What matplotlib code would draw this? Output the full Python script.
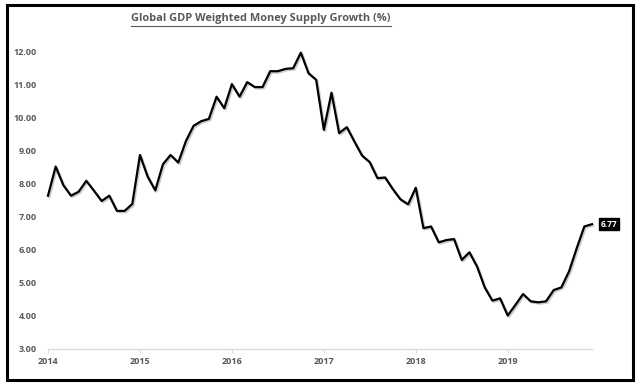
import matplotlib
matplotlib.use("Agg")
import matplotlib.pyplot as plt
import matplotlib.patches as mpatches
import matplotlib.patheffects as pe
import numpy as np

# monthly values, Jan 2014 .. Dec 2019
y2014 = [7.63, 8.51, 7.95, 7.63, 7.75, 8.08, 7.78, 7.47, 7.63, 7.17, 7.17, 7.38]
y2015 = [8.86, 8.21, 7.79, 8.58, 8.86, 8.63, 9.28, 9.74, 9.88, 9.95, 10.62, 10.27]
y2016 = [11.00, 10.62, 11.06, 10.91, 10.91, 11.39, 11.39, 11.46, 11.48, 11.95, 11.33, 11.13]
y2017 = [9.62, 10.74, 9.52, 9.70, 9.26, 8.84, 8.64, 8.16, 8.18, 7.83, 7.52, 7.37]
y2018 = [7.87, 6.65, 6.70, 6.22, 6.29, 6.32, 5.69, 5.92, 5.49, 4.86, 4.46, 4.53]
y2019 = [4.01, 4.33, 4.66, 4.44, 4.41, 4.44, 4.78, 4.86, 5.34, 6.04, 6.70, 6.77]
years = [2014, 2015, 2016, 2017, 2018, 2019]
yticks = [3, 4, 5, 6, 7, 8, 9, 10, 11, 12]

values = y2014 + y2015 + y2016 + y2017 + y2018 + y2019
dates = [2014 + i / 12 for i in range(len(values))]

W, H = 640, 389
fig = plt.figure(figsize=(6.4, 3.89), dpi=100)
fig.patch.set_facecolor("white")
ax = fig.add_axes([48 / W, (H - 349) / H, (592 - 48) / W, (349 - 51) / H])

grey = "#595959"
ax.plot(dates, values, color="black", lw=1.6, solid_joinstyle="round",
        path_effects=[pe.SimpleLineShadow(offset=(1.0, -1.0), shadow_color="#999999", alpha=0.5), pe.Normal()],
        clip_on=False)
ax.set_xlim(dates[0], dates[-1])
ax.set_ylim(3, 12)

ax.set_xticks(years)
ax.set_xticklabels([str(y) for y in years])
ax.set_yticks(yticks)
ax.set_yticklabels(["%.2f" % v for v in yticks])
for s in ["top", "right", "left"]:
    ax.spines[s].set_visible(False)
ax.spines["bottom"].set_color("#d9d9d9")
ax.spines["bottom"].set_linewidth(1.0)
ax.tick_params(axis="y", length=0, pad=8, labelsize=6.5, labelcolor=grey)
ax.tick_params(axis="x", length=3, color="#d9d9d9", pad=3, labelsize=6.5, labelcolor=grey)
for lab in ax.get_xticklabels() + ax.get_yticklabels():
    lab.set_fontweight("bold")
    lab.set_fontfamily("Open Sans")

# last value label
ax.annotate("%.2f" % values[-1], xy=(dates[-1], values[-1]), xytext=(6, 0),
            textcoords="offset points", va="center", ha="left",
            fontsize=6, fontweight="bold", color="white", family="Open Sans",
            bbox=dict(boxstyle="square,pad=0.2", fc="black", ec="black"),
            annotation_clip=False)

# title, underlined to its own width
title = fig.text(261 / W, 1 - 19 / H, "Global GDP Weighted Money Supply Growth (%)",
                 ha="center", va="center", fontsize=7.9, color=grey, fontweight="bold",
                 family="Open Sans")
fig.canvas.draw()
bb = title.get_window_extent()
fig.add_artist(plt.Line2D([bb.x0 / W, bb.x1 / W], [1 - 25.5 / H, 1 - 25.5 / H],
                          color=grey, lw=0.8, transform=fig.transFigure))

# outer frame
fig.add_artist(mpatches.Rectangle((7 / W, (H - 380) / H), (633 - 7) / W, (380 - 5) / H,
                                  fill=False, ec="black", lw=2.2,
                                  transform=fig.transFigure))

fig.savefig("out.png", dpi=100)
